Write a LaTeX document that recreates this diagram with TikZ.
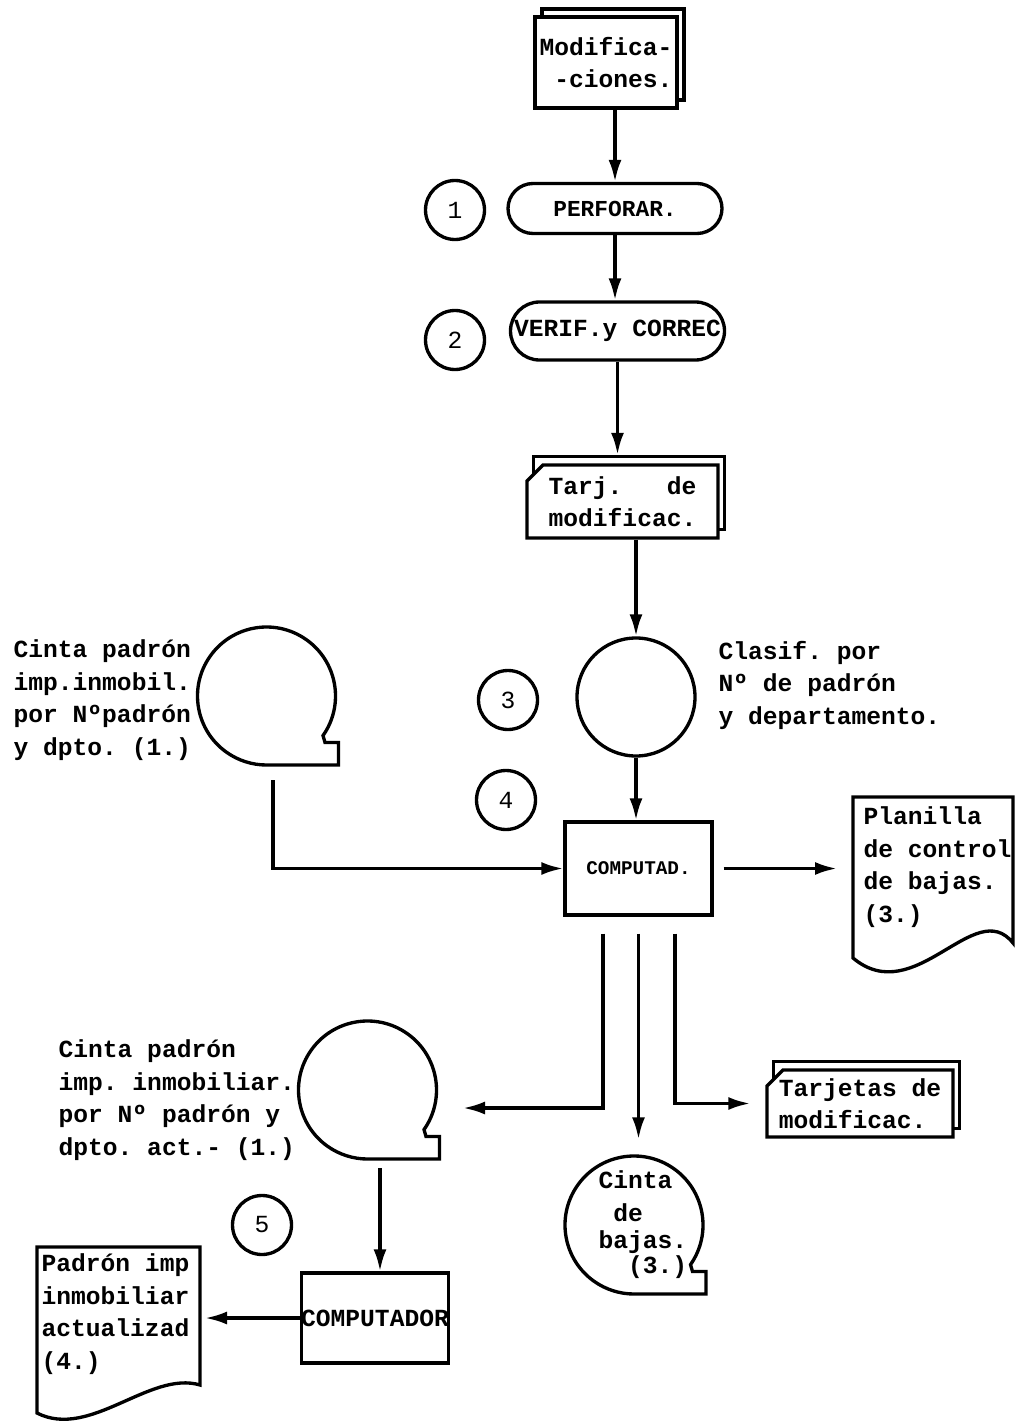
\documentclass[tikz,border=0pt]{standalone}
\usepackage{fontspec}
\setmonofont{Liberation Mono}
\usetikzlibrary{arrows.meta,shapes.misc,positioning}

\tikzset{
  flecha/.style={-{Latex[length=4.4mm,width=2.6mm]}},
  texto/.style={font=\ttfamily\bfseries\fontsize{14}{18.5}\selectfont, align=left, inner sep=0pt},
  caja/.style={texto, draw, fill=white, minimum width=2.94cm, minimum height=1.86cm},
  tarjeta/.style={caja, chamfered rectangle, chamfered rectangle corners=north west, chamfered rectangle xsep=0.22cm},
  terminal/.style={texto, draw, rounded corners=0.5cm, minimum width=4.28cm, minimum height=1cm},
  paso/.style={texto, font=\ttfamily\fontsize{14}{16}\selectfont, circle, draw, minimum size=1.18cm},
  cintanodo/.style={circle, minimum size=2.76cm, inner sep=0pt},
  cinta/.pic={
    \draw (-35:1.38) arc[start angle=-35, end angle=270, radius=1.38]
      -- (1.44,-1.38) -- (1.44,-0.93) -- (1.17,-0.93) -- cycle;
  }
}

\begin{document}
\begin{tikzpicture}[line width=1.9pt]
\useasboundingbox (0,0) rectangle (20.3,-28.44);
%%%%% Entrada y perforacion %%%%%
\node[caja, minimum width=2.84cm, minimum height=1.82cm] (modifB) at (12.26,-1.09) {};
\node[caja, minimum width=2.84cm, minimum height=1.82cm] (modif) at (12.12,-1.25) {Modifica-\\\ -ciones.};
\node[terminal, font=\ttfamily\bfseries\fontsize{13}{16}\selectfont] (perf) at (12.3,-4.17) {PERFORAR.};
\node[terminal, rounded corners=0.58cm, minimum height=1.16cm] (verif) at (12.35,-6.62) {VERIF.y CORREC};
\node[paso] (p1) at (9.1,-4.2) {1};
\node[paso] (p2) at (9.1,-6.8) {2};
\draw[flecha] (perf.north |- modif.south) -- (perf.north);
\draw[flecha] (perf.south) -- (perf.south |- verif.north);

%%%%% Tarjetas y clasificacion %%%%%
\node[tarjeta, minimum width=3.82cm, minimum height=1.46cm] (tarjB) at (12.58,-9.86) {};
\node[tarjeta, minimum width=3.82cm, minimum height=1.46cm] (tarj) at (12.45,-10.03) {Tarj.\ \ \ de\\modificac.};
\draw[flecha] (verif.south) -- (verif.south |- tarjB.north);
\node[circle, draw, minimum size=2.36cm] (clasif) at (12.72,-13.94) {};
\node[texto, anchor=west] (clasiftxt) at (14.34,-13.7) {Clasif. por\\Nº de padrón\\y departamento.};
\draw[flecha] (clasif.north |- tarj.south) -- (clasif.north);
\node[paso] (p3) at (10.16,-14.0) {3};
\node[paso] (p4) at (10.12,-16.0) {4};

%%%%% Primera pasada %%%%%
\node[cintanodo] (cinta1) at (5.33,-13.92) {};
\pic at (cinta1) {cinta};
\node[texto, anchor=west] (cinta1txt) at (0.24,-14.0) {Cinta padrón\\imp.inmobil.\\por Nºpadrón\\y dpto. (1.)};
\node[caja] (comp) at (12.77,-17.37) {\fontsize{11}{13}\selectfont COMPUTAD.};
\draw[flecha] (clasif.south) -- (clasif.south |- comp.north);
\coordinate (c1out) at (5.46,-15.6);
\draw[flecha] (c1out) |- (comp.west);
\node[texto, anchor=west] (planilla) at (17.24,-17.34) {Planilla\\de control\\de bajas.\\(3.)};
\draw (17.06,-15.94) -- (20.26,-15.94) -- (20.26,-18.86) .. controls (19.5,-17.9) and (18.3,-20.2) .. (17.06,-19.16) -- cycle;
\draw[flecha, shorten <=0.2cm, shorten >=0.5cm] (comp.east) -- (comp.east -| planilla.west);

%%%%% Salidas %%%%%
\coordinate (s1) at ([shift={(-0.71,-0.34)}]comp.south);
\coordinate (s2) at ([shift={(0,-0.34)}]comp.south);
\coordinate (s3) at ([shift={(0.73,-0.34)}]comp.south);
\coordinate (e1) at (9.26,-22.16);
\node[cintanodo] (cinta2) at (7.35,-21.8) {};
\pic at (cinta2) {cinta};
\node[texto, anchor=west] (cinta2txt) at (1.14,-22.0) {Cinta padrón\\imp. inmobiliar.\\por Nº padrón y\\dpto. act.- (1.)};
\node[cintanodo] (cinta3) at (12.68,-24.5) {};
\pic at (cinta3) {cinta};
\node[texto, anchor=west] (cinta3txt) at (11.94,-24.5) {Cinta\\\ de\\[-3pt]bajas.\\[-4pt]\ \ (3.)};
\node[tarjeta, minimum width=3.72cm, minimum height=1.34cm] (tarjetasB) at (17.33,-21.9) {};
\node[tarjeta, minimum width=3.72cm, minimum height=1.34cm] (tarjetas) at (17.2,-22.07) {Tarjetas de\\modificac.};
\draw[flecha] (s1) |- (e1);
\draw[flecha, shorten >=0.3cm] (s2) -- (s2 |- cinta3.north);
\draw[flecha, shorten >=0.3cm] (s3) |- (tarjetas.west);

%%%%% Segunda pasada %%%%%
\node[paso] (p5) at (5.24,-24.5) {5};
\node[caja, minimum width=2.92cm, minimum height=1.8cm] (comp2) at (7.5,-26.36) {COMPUTADOR};
\coordinate (c2out) at (7.6,-23.36);
\draw[flecha] (c2out) -- (c2out |- comp2.north);
\node[texto, anchor=west] (padron) at (0.8,-26.28) {Padrón imp\\inmobiliar\\actualizad\\(4.)};
\draw (0.74,-24.94) -- (4.0,-24.94) -- (4.0,-27.7) .. controls (3.0,-27.4) and (1.8,-28.8) .. (0.74,-28.26) -- cycle;
\coordinate (e5) at (4.1,-26.36);
\draw[flecha] (comp2.west) -- (e5);
\end{tikzpicture}
\end{document}
